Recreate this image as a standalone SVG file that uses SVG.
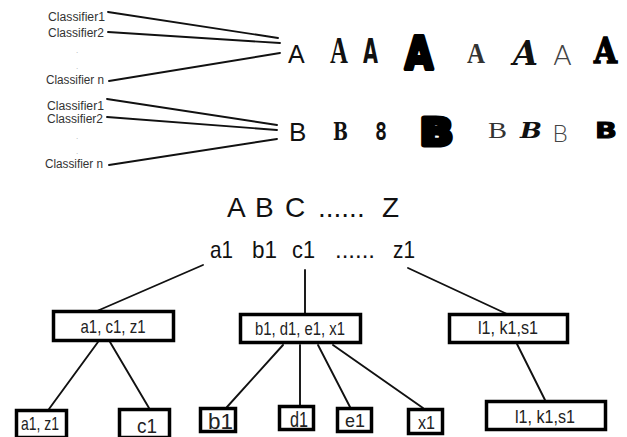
<svg xmlns="http://www.w3.org/2000/svg" width="627" height="437" viewBox="0 0 627 437">
<style>
.bg{fill:#fff}
.cl{font-family:"Liberation Sans",Arial,sans-serif;font-size:12.5px;fill:#333}
.dot{font-family:"Liberation Sans",Arial,sans-serif;font-size:8px;fill:#aaa}
.ln{stroke:#111;stroke-width:1.9;fill:none;stroke-linecap:round}
.big{font-family:"Liberation Sans",Arial,sans-serif;fill:#111}
.mid{font-family:"Liberation Sans",Arial,sans-serif;fill:#111;font-size:24px}
.box{fill:#fff;stroke:#000;stroke-width:3.5}
.lb{font-family:"Liberation Sans",Arial,sans-serif;fill:#222;text-anchor:middle}
</style>
<rect class="bg" x="0" y="0" width="627" height="437"/>
<g id="classifiers-A">
<text class="cl" x="48" y="21" textLength="57" lengthAdjust="spacingAndGlyphs">Classifier1</text>
<text class="cl" x="48" y="37" textLength="56" lengthAdjust="spacingAndGlyphs">Classifier2</text>
<text class="dot" x="76" y="53">.</text>
<text class="dot" x="76" y="69">.</text>
<text class="cl" x="46" y="84" textLength="58" lengthAdjust="spacingAndGlyphs">Classifier n</text>
</g>
<g id="classifiers-B">
<text class="cl" x="47" y="110" textLength="57" lengthAdjust="spacingAndGlyphs">Classifier1</text>
<text class="cl" x="47" y="123" textLength="56" lengthAdjust="spacingAndGlyphs">Classifier2</text>
<text class="dot" x="76" y="139">.</text>
<text class="dot" x="76" y="154">.</text>
<text class="cl" x="45" y="168" textLength="58" lengthAdjust="spacingAndGlyphs">Classifier n</text>
</g>
<g id="letters-A">
<text class="big" x="288" y="63" font-size="25">A</text>
<text x="330" y="63" font-family="Liberation Serif,serif" font-weight="bold" font-size="37" textLength="18" lengthAdjust="spacingAndGlyphs" fill="#111">A</text>
<text x="363" y="63" font-family="DejaVu Sans,sans-serif" font-weight="bold" font-size="34" textLength="15" lengthAdjust="spacingAndGlyphs" fill="#111">A</text>
<text x="405" y="69" font-family="DejaVu Sans,sans-serif" font-weight="bold" font-size="45" textLength="28" lengthAdjust="spacingAndGlyphs" fill="#000" stroke="#000" stroke-width="4" stroke-linejoin="round">A</text>
<text x="467" y="63" font-family="Liberation Serif,serif" font-weight="bold" font-size="30" textLength="18" lengthAdjust="spacingAndGlyphs" fill="#333">A</text>
<text x="513" y="65" font-family="DejaVu Serif,serif" font-weight="bold" font-style="italic" font-size="33" textLength="25" lengthAdjust="spacingAndGlyphs" fill="#111">A</text>
<text x="553" y="65" font-family="DejaVu Sans,sans-serif" font-weight="200" font-size="27" textLength="19" lengthAdjust="spacingAndGlyphs" fill="#444">A</text>
<text x="594" y="63" font-family="DejaVu Serif,serif" font-weight="bold" font-size="36" textLength="23" lengthAdjust="spacingAndGlyphs" fill="#000" stroke="#000" stroke-width="1.5">A</text>
</g>
<g id="letters-B">
<text class="big" x="289" y="141" font-size="26">B</text>
<text x="333" y="140" font-family="DejaVu Serif,serif" font-weight="bold" font-size="25" textLength="15" lengthAdjust="spacingAndGlyphs" fill="#111">B</text>
<text x="375" y="140" font-family="DejaVu Sans Mono,monospace" font-weight="bold" font-size="25" textLength="12" lengthAdjust="spacingAndGlyphs" fill="#111">8</text>
<text x="420" y="145" font-family="DejaVu Sans,sans-serif" font-weight="bold" font-size="38" textLength="33" lengthAdjust="spacingAndGlyphs" fill="#000" stroke="#000" stroke-width="5" stroke-linejoin="round">B</text>
<text x="488" y="138" font-family="Liberation Serif,serif" font-size="24" textLength="19" lengthAdjust="spacingAndGlyphs" fill="#333">B</text>
<text x="520" y="138" font-family="DejaVu Serif,serif" font-weight="bold" font-style="italic" font-size="22" textLength="22" lengthAdjust="spacingAndGlyphs" fill="#111">B</text>
<text x="552" y="142" font-family="DejaVu Sans,sans-serif" font-weight="200" font-size="23" textLength="16" lengthAdjust="spacingAndGlyphs" fill="#444">B</text>
<text x="595" y="138" font-family="DejaVu Sans,sans-serif" font-weight="bold" font-size="22" textLength="22" lengthAdjust="spacingAndGlyphs" fill="#000" stroke="#000" stroke-width="1">B</text>
</g>
<g id="alphabet">
<text class="big" y="217" font-size="28"><tspan x="227">A</tspan><tspan x="255">B</tspan><tspan x="285">C</tspan><tspan x="318">......</tspan><tspan x="382">Z</tspan></text>
</g>
<g id="clusters">
<text class="mid" x="210" y="258" textLength="23" lengthAdjust="spacingAndGlyphs">a1</text>
<text class="mid" x="252" y="258" textLength="25" lengthAdjust="spacingAndGlyphs">b1</text>
<text class="mid" x="292" y="258" textLength="23" lengthAdjust="spacingAndGlyphs">c1</text>
<text class="mid" x="335" y="258" textLength="40" lengthAdjust="spacing">......</text>
<text class="mid" x="393" y="258" textLength="22" lengthAdjust="spacingAndGlyphs">z1</text>
</g>
<g id="connectors">
<line class="ln" x1="108" y1="12" x2="278" y2="38"/>
<line class="ln" x1="108" y1="32" x2="280" y2="43"/>
<line class="ln" x1="109" y1="81" x2="280" y2="53"/>
<line class="ln" x1="107" y1="99" x2="277" y2="125"/>
<line class="ln" x1="107" y1="117" x2="277" y2="130"/>
<line class="ln" x1="109" y1="165" x2="277" y2="139"/>
<line class="ln" x1="203" y1="265" x2="97" y2="311"/>
<line class="ln" x1="305" y1="270" x2="305" y2="314"/>
<line class="ln" x1="408" y1="268" x2="507" y2="314"/>
<line class="ln" x1="98" y1="342" x2="49" y2="409"/>
<line class="ln" x1="110" y1="342" x2="149" y2="408"/>
<line class="ln" x1="283" y1="345" x2="227" y2="407"/>
<line class="ln" x1="300" y1="345" x2="300" y2="405"/>
<line class="ln" x1="318" y1="345" x2="350" y2="407"/>
<line class="ln" x1="333" y1="345" x2="423" y2="408"/>
<line class="ln" x1="517" y1="344" x2="545" y2="400"/>
</g>
<g id="node-acz">
<rect class="box" x="53.5" y="311.5" width="120" height="29"/>
<text class="lb" x="113" y="333" font-size="19" textLength="65" lengthAdjust="spacingAndGlyphs">a1, c1, z1</text>
</g>
<g id="node-bdex">
<rect class="box" x="240.5" y="314.5" width="120" height="28"/>
<text class="lb" x="300" y="335" font-size="19" textLength="90" lengthAdjust="spacingAndGlyphs">b1, d1, e1, x1</text>
</g>
<g id="node-lks">
<rect class="box" x="449.5" y="314.5" width="118" height="28"/>
<text class="lb" x="508" y="334" font-size="19" textLength="60" lengthAdjust="spacingAndGlyphs">l1, k1,s1</text>
</g>
<g id="node-az">
<rect class="box" x="16.5" y="410.5" width="50" height="27"/>
<text class="lb" x="40" y="430" font-size="19" textLength="38" lengthAdjust="spacingAndGlyphs">a1, z1</text>
</g>
<g id="node-c">
<rect class="box" x="119.5" y="409.5" width="50" height="28"/>
<text class="lb" x="147" y="433" font-size="21" textLength="20" lengthAdjust="spacingAndGlyphs">c1</text>
</g>
<g id="node-b">
<rect class="box" x="200.5" y="408.5" width="35" height="23"/>
<text class="lb" x="220.5" y="429" font-size="22" textLength="25" lengthAdjust="spacingAndGlyphs">b1</text>
</g>
<g id="node-d">
<rect class="box" x="279.5" y="406.5" width="34" height="23"/>
<text class="lb" x="299" y="427" font-size="22" textLength="18" lengthAdjust="spacingAndGlyphs">d1</text>
</g>
<g id="node-e">
<rect class="box" x="337.5" y="408.5" width="34" height="23"/>
<text class="lb" x="355" y="427" font-size="19" textLength="20" lengthAdjust="spacingAndGlyphs">e1</text>
</g>
<g id="node-x">
<rect class="box" x="408.5" y="409.5" width="34" height="24"/>
<text class="lb" x="426.5" y="429" font-size="19" textLength="17" lengthAdjust="spacingAndGlyphs">x1</text>
</g>
<g id="node-lks2">
<rect class="box" x="486.5" y="401.5" width="119" height="28"/>
<text class="lb" x="545" y="423" font-size="18" textLength="60" lengthAdjust="spacingAndGlyphs">l1, k1,s1</text>
</g>
</svg>
